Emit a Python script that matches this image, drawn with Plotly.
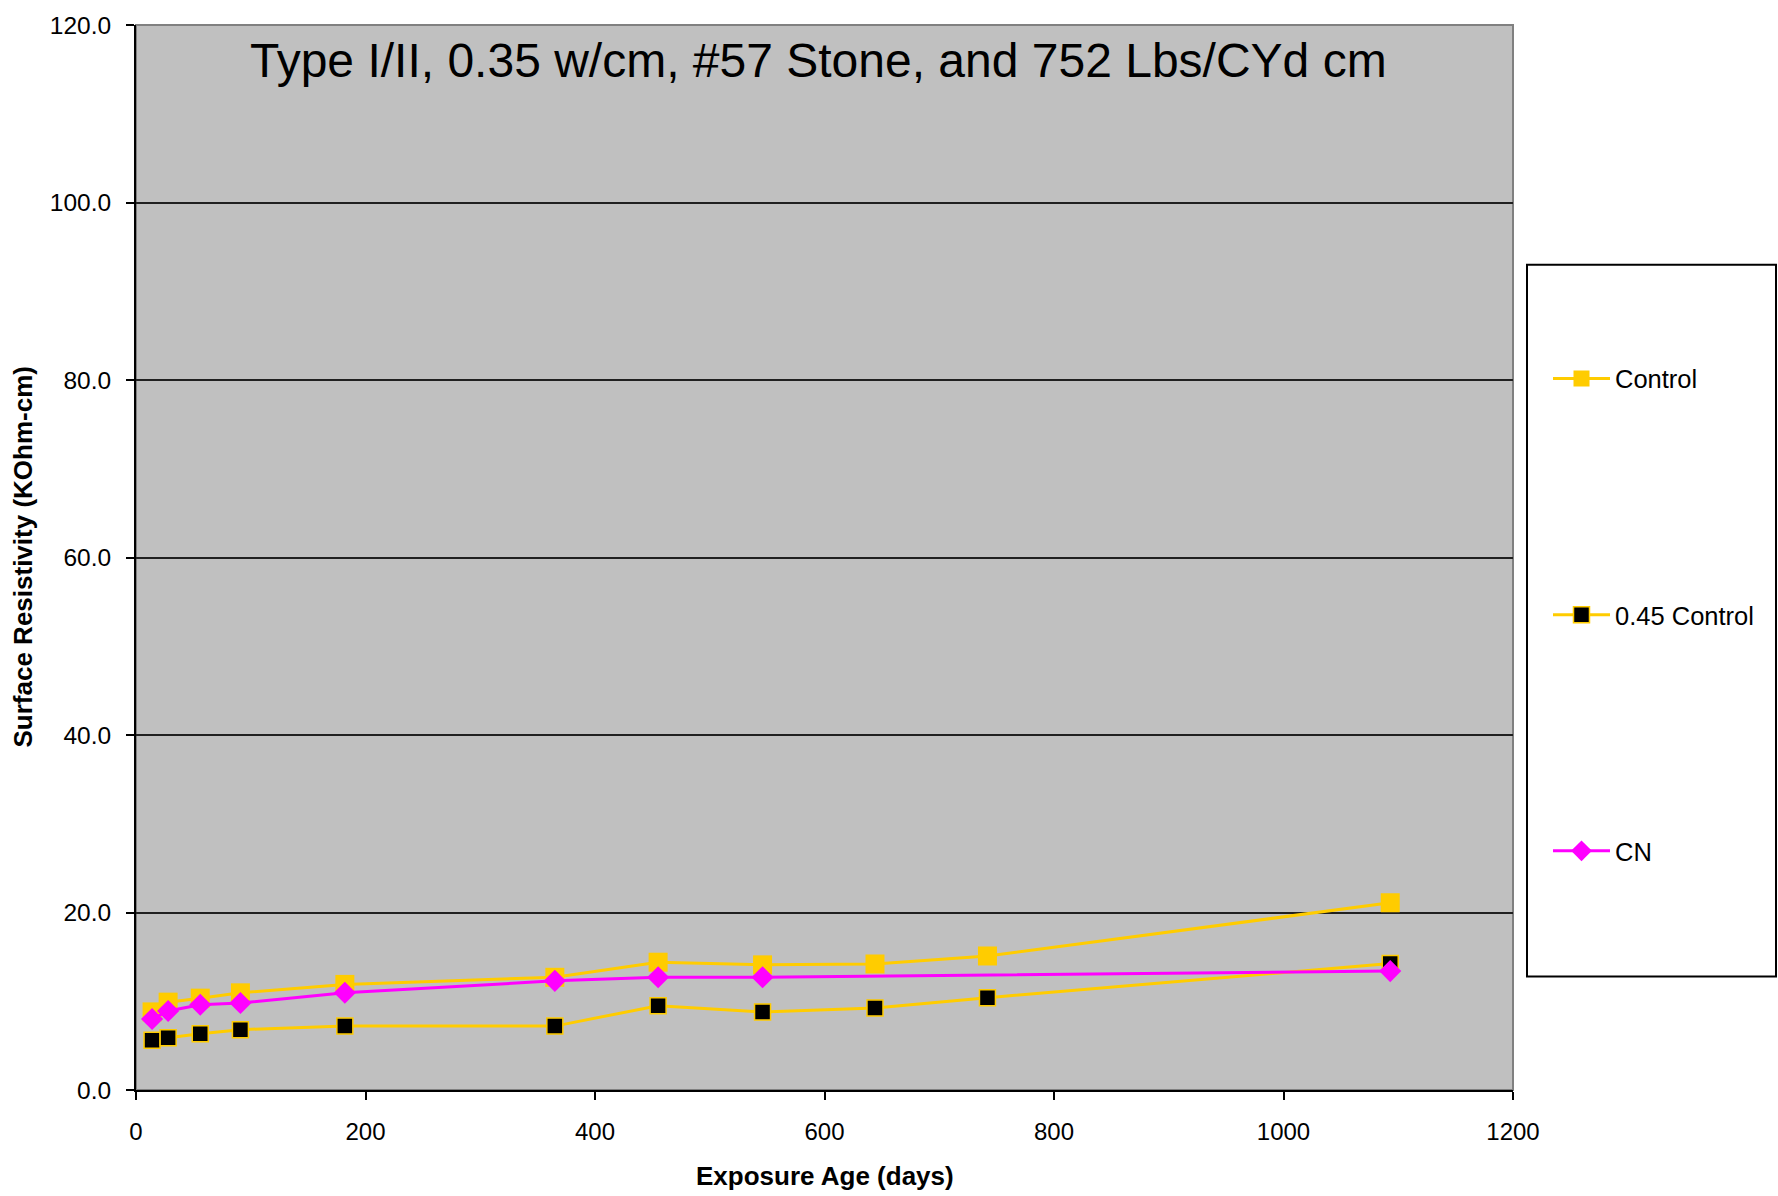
import plotly.graph_objects as go

# ---- data ----
days = [14, 28, 56, 91, 182, 365, 455, 546, 644, 742, 1093]
control = [8.8, 9.9, 10.35, 10.95, 11.9, 12.7, 14.4, 14.1, 14.2, 15.1, 21.1]
control_045 = [5.6, 5.9, 6.35, 6.8, 7.2, 7.2, 9.5, 8.8, 9.25, 10.4, 14.25]
cn_days = [14, 28, 56, 91, 182, 365, 455, 546, 1093]
cn = [8.0, 8.9, 9.6, 9.8, 10.95, 12.3, 12.7, 12.7, 13.4]

series_names = ["Control", "0.45 Control", "CN"]
title_text = "Type I/II, 0.35 w/cm, #57 Stone, and 752 Lbs/CYd cm"
x_title = "Exposure Age (days)"
y_title = "Surface Resistivity (KOhm-cm)"
x_ticks = [0, 200, 400, 600, 800, 1000, 1200]
y_ticks = [0, 20, 40, 60, 80, 100, 120]

FONT = "Arial, Liberation Sans, sans-serif"
YELLOW = "#FFCC00"
MAGENTA = "#FF00FF"

fig = go.Figure()
fig.add_trace(go.Scatter(
    x=days, y=control, name=series_names[0], mode="lines+markers", legendgroup="a",
    line=dict(color=YELLOW, width=3),
    marker=dict(symbol="square", size=19, color=YELLOW, line=dict(width=0)),
))
fig.add_trace(go.Scatter(
    x=days, y=control_045, name=series_names[1], mode="lines+markers", legendgroup="b",
    line=dict(color=YELLOW, width=3),
    marker=dict(symbol="square", size=16, color="#000000", line=dict(width=1.5, color=YELLOW)),
))
fig.add_trace(go.Scatter(
    x=cn_days, y=cn, name=series_names[2], mode="lines+markers", legendgroup="c",
    line=dict(color=MAGENTA, width=3),
    marker=dict(symbol="diamond", size=17, color=MAGENTA, line=dict(width=0)),
))

L, R, T, B = 136, 265, 20, 106
W, H = 1778, 1196
pw, ph = W - L - R, H - T - B

def px(xfull):
    return (xfull - L) / pw

def py(yfull):
    return (H - B - yfull) / ph

fig.update_layout(
    width=W, height=H,
    margin=dict(l=L, r=R, t=T, b=B),
    paper_bgcolor="white",
    plot_bgcolor="#C0C0C0",
    font=dict(family=FONT, size=24, color="#000000"),
    showlegend=True,
    legend=dict(
        x=px(1548), xanchor="left", y=py(352), yanchor="top",
        bgcolor="rgba(0,0,0,0)", borderwidth=0,
        font=dict(family=FONT, size=25.5, color="#000000"),
        tracegroupgap=200, itemwidth=57,
    ),
    xaxis=dict(
        range=[0, 1200], tickvals=x_ticks, ticktext=[str(v) for v in x_ticks],
        showgrid=False, zeroline=False,
        showline=True, linecolor="#000000", linewidth=2,
        ticks="outside", ticklen=8, tickwidth=1.5, tickcolor="#000000",
        tickfont=dict(family=FONT, size=24, color="#000000"),
        ticklabelstandoff=11,
    ),
    yaxis=dict(
        range=[0, 120], tickvals=y_ticks, ticktext=["%.1f" % v for v in y_ticks],
        showgrid=True, gridcolor="#202020", gridwidth=2,
        zeroline=False,
        showline=True, linecolor="#000000", linewidth=2,
        ticks="outside", ticklen=8, tickwidth=1.5, tickcolor="#000000",
        tickfont=dict(family=FONT, size=24.5, color="#000000"),
        ticklabelstandoff=10,
    ),
    shapes=[
        # plot border (top / right in grey)
        dict(type="rect", xref="paper", yref="paper", x0=0, x1=1, y0=0, y1=1,
             line=dict(color="#808080", width=2), layer="below"),
        # legend box
        dict(type="rect", xref="paper", yref="paper",
             x0=px(1527), x1=px(1776), y0=py(976), y1=py(261),
             line=dict(color="#000000", width=2), fillcolor="white"),
    ],
    annotations=[
        dict(text=title_text, xref="paper", yref="paper", x=px(818), y=py(56),
             xanchor="center", yanchor="middle", showarrow=False,
             font=dict(family=FONT, size=48, color="#000000")),
        dict(text="<b>%s</b>" % x_title, xref="paper", yref="paper", x=0.5, y=py(1176),
             xanchor="center", yanchor="middle", showarrow=False,
             font=dict(family=FONT, size=26, color="#000000")),
        dict(text="<b>%s</b>" % y_title, xref="paper", yref="paper", x=px(22), y=0.5,
             xanchor="center", yanchor="middle", showarrow=False, textangle=-90,
             font=dict(family=FONT, size=26, color="#000000")),
    ],
)

fig.write_html("out.html")
